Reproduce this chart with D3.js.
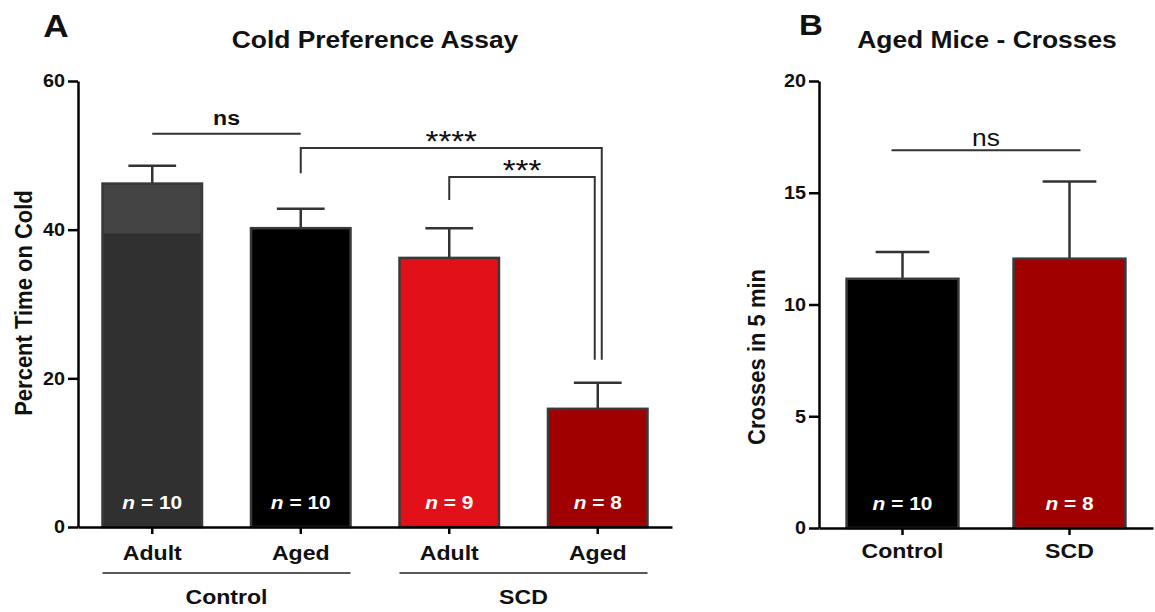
<!DOCTYPE html>
<html>
<head>
<meta charset="utf-8">
<script src="https://cdn.jsdelivr.net/npm/d3@7"></script>
<style>
body { margin:0; background:#fff; }
svg { font-family:"Liberation Sans", Arial, sans-serif; }
</style>
</head>
<body>
<svg id="chart"></svg>
<script>
// panel A - cold preference assay
var groupsA = ["Control","Control","SCD","SCD"];
var agesA = ["Adult","Aged","Adult","Aged"];
var meanA = [46.2, 40.2, 36.2, 15.9];
var semA = [2.4, 2.6, 4.0, 3.5];
var nA = [10, 10, 9, 8];
var colorsA = ["#303030", "#000000", "#e21019", "#a10000"];
var ticksA = [0, 20, 40, 60];
var splitA = 39.5; // the first bar is lighter above this value in the picture
var bracketsA = [
    {a:0, b:1, top:52.9, label:"ns"},
    {a:1, b:3, top:51.0, fromY:47.6, toY:22.5, label:"****"},
    {a:2, b:3, top:47.1, fromY:44.0, toY:22.5, label:"***"}
];

// panel B - aged mice crosses
var catsB = ["Control","SCD"];
var meanB = [11.15, 12.05];
var semB = [1.2, 3.45];
var nB = [10, 8];
var colorsB = ["#000000", "#a10000"];
var ticksB = [0, 5, 10, 15, 20];
var bracketB = {a:0, b:1, top:16.9, label:"ns"};

var SX = 1.1; // text in the picture is a bit wide

var svg = d3.select("#chart").attr("width",1155).attr("height",612);

var stext = function(x, y, str, size, weight, extra)
{
    var t = svg.append("text")
        .attr("transform","translate("+x+","+y+") scale("+SX+",1)"+(extra||""))
        .attr("text-anchor","middle")
        .attr("font-size",size)
        .attr("font-weight",weight||"bold")
        .attr("fill","#111")
        .text(str);
    return t;
}

var drawAxes = function(xScale, yScale, ticks, y0)
{
    var yAxis = d3.axisLeft(yScale).tickValues(ticks).tickSize(10).tickSizeOuter(0).tickPadding(3);
    var gy = svg.append("g")
        .attr("transform","translate("+xScale.range()[0]+",0)")
        .call(yAxis);
    gy.selectAll("line,path").attr("stroke","#000").attr("stroke-width",2.5);
    gy.selectAll("text")
        .attr("font-size",18).attr("font-weight","bold").attr("fill","#111")
        .attr("x",-13/SX).attr("transform","scale("+SX+",1)");

    var xAxis = d3.axisBottom(xScale).tickSize(7).tickSizeOuter(0).tickFormat("");
    var gx = svg.append("g")
        .attr("transform","translate(0,"+y0+")")
        .call(xAxis);
    gx.selectAll("line,path").attr("stroke","#000").attr("stroke-width",2.5);
}

var drawBars = function(keys, means, sems, ns, colors, xScale, yScale)
{
    var bw = xScale.bandwidth();
    var data = keys.map(function(k,i){ return {k:k, m:means[i], s:sems[i], n:ns[i], c:colors[i]}; });

    svg.append("g").selectAll("line")
        .data(data).enter().append("line")
        .attr("x1",function(d){ return xScale(d.k)+bw/2; })
        .attr("x2",function(d){ return xScale(d.k)+bw/2; })
        .attr("y1",function(d){ return yScale(d.m); })
        .attr("y2",function(d){ return yScale(d.m+d.s); })
        .attr("stroke","#333").attr("stroke-width",2.5);
    svg.append("g").selectAll("line")
        .data(data).enter().append("line")
        .attr("x1",function(d){ return xScale(d.k)+bw/2-bw*0.24; })
        .attr("x2",function(d){ return xScale(d.k)+bw/2+bw*0.24; })
        .attr("y1",function(d){ return yScale(d.m+d.s); })
        .attr("y2",function(d){ return yScale(d.m+d.s); })
        .attr("stroke","#333").attr("stroke-width",2.5);

    svg.append("g").selectAll("rect")
        .data(data).enter().append("rect")
        .attr("x",function(d){ return xScale(d.k); })
        .attr("width",bw)
        .attr("y",function(d){ return yScale(d.m); })
        .attr("height",function(d){ return yScale(0)-yScale(d.m); })
        .attr("fill",function(d){ return d.c; })
        .attr("stroke","#3a3a3a").attr("stroke-width",2.5);

    data.forEach(function(d){
        var t = stext(xScale(d.k)+bw/2, yScale(0)-18, "", 19, "bold");
        t.attr("fill","#fff");
        t.append("tspan").attr("font-style","italic").text("n");
        t.append("tspan").text(" = "+d.n);
    });
}

// ---------- panel A ----------
var keysA = agesA.map(function(a,i){ return groupsA[i]+" "+a; });
var xA = d3.scaleBand().domain(keysA).range([78,672]).paddingInner(0.33).paddingOuter(0.165);
var yA = d3.scaleLinear().domain([0,60]).range([527,81]);

drawBars(keysA, meanA, semA, nA, colorsA, xA, yA);
// lighter top band of the first bar
svg.append("rect")
    .attr("x",xA(keysA[0])+1.25).attr("width",xA.bandwidth()-2.5)
    .attr("y",yA(meanA[0])+1.25).attr("height",yA(splitA)-yA(meanA[0])-1.25)
    .attr("fill","#444");
drawAxes(xA, yA, ticksA, 527);

agesA.forEach(function(a,i){
    stext(xA(keysA[i])+xA.bandwidth()/2, 560, a, 21, "bold");
});
["Control","SCD"].forEach(function(g){
    var idx = groupsA.map(function(v,i){ return v===g ? i : -1; }).filter(function(i){ return i>=0; });
    var x1 = xA(keysA[idx[0]]), x2 = xA(keysA[idx[idx.length-1]])+xA.bandwidth();
    svg.append("line").attr("x1",x1).attr("x2",x2).attr("y1",573).attr("y2",573)
        .attr("stroke","#222").attr("stroke-width",1.5);
    stext((x1+x2)/2, 604, g, 21, "bold");
});

var legShift = [0, 4, -3];
bracketsA.forEach(function(br,i){
    var xa = xA(keysA[br.a])+xA.bandwidth()/2;
    var xb = xA(keysA[br.b])+xA.bandwidth()/2+legShift[i];
    var yt = yA(br.top);
    var path = d3.path();
    if (br.fromY===undefined) {
        path.moveTo(xa,yt); path.lineTo(xb,yt);
    } else {
        path.moveTo(xa,yA(br.fromY)); path.lineTo(xa,yt); path.lineTo(xb,yt); path.lineTo(xb,yA(br.toY));
    }
    svg.append("path").attr("d",path.toString()).attr("fill","none")
        .attr("stroke","#333").attr("stroke-width",2);
    if (br.label==="ns") stext((xa+xb)/2, yt-9, br.label, 21, "bold");
    else stext((xa+xb)/2, yt+3, br.label, 30, "normal");
});

stext(375, 48, "Cold Preference Assay", 24, "bold");
stext(32, 303, "Percent Time on Cold", 22, "bold", " rotate(-90)");
stext(56, 37, "A", 32, "bold");

// ---------- panel B ----------
var xB = d3.scaleBand().domain(catsB).range([819,1153]).paddingInner(0.33).paddingOuter(0.165);
var yB = d3.scaleLinear().domain([0,20]).range([528,81]);

drawBars(catsB, meanB, semB, nB, colorsB, xB, yB);
drawAxes(xB, yB, ticksB, 528);

catsB.forEach(function(c){
    stext(xB(c)+xB.bandwidth()/2, 558, c, 21, "bold");
});

var xa = xB(catsB[bracketB.a])+xB.bandwidth()/2-11;
var xb = xB(catsB[bracketB.b])+xB.bandwidth()/2+11;
svg.append("line").attr("x1",xa).attr("x2",xb)
    .attr("y1",yB(bracketB.top)).attr("y2",yB(bracketB.top))
    .attr("stroke","#333").attr("stroke-width",2);
stext((xa+xb)/2, yB(bracketB.top)-4, bracketB.label, 24, "normal");

stext(987, 48, "Aged Mice - Crosses", 24, "bold");
stext(765, 357, "Crosses in 5 min", 22, "bold", " rotate(-90)");
stext(811, 35, "B", 30, "bold");
</script>
</body>
</html>
